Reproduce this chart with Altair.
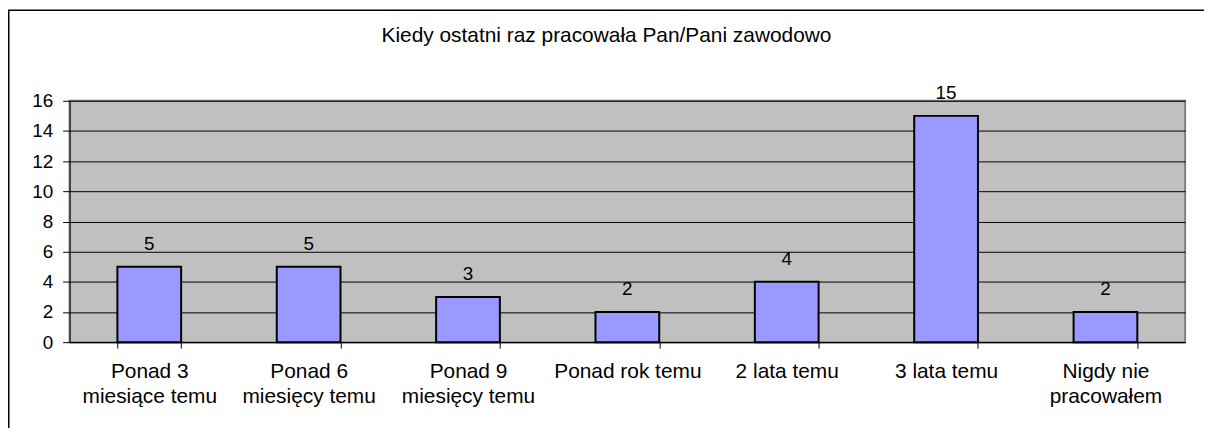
import altair as alt
import pandas as pd

title_text = "Kiedy ostatni raz pracowała Pan/Pani zawodowo"
categories = [
    "Ponad 3|miesiące temu",
    "Ponad 6|miesięcy temu",
    "Ponad 9|miesięcy temu",
    "Ponad rok temu",
    "2 lata temu",
    "3 lata temu",
    "Nigdy nie|pracowałem",
]
values = [5, 5, 3, 2, 4, 15, 2]
y_ticks = [0, 2, 4, 6, 8, 10, 12, 14, 16]

df = pd.DataFrame({"cat": categories, "val": values})

W, H = 1123, 243
PL, PT, PR, PB = 62, 92, 19, 85
FONT = "Liberation Sans"

x_enc = alt.X(
    "cat:N",
    sort=categories,
    title=None,
    scale=alt.Scale(paddingInner=0.6, paddingOuter=0.3),
    axis=alt.Axis(
        labelExpr="split(datum.label, '|')",
        labelAngle=0,
        labelFont=FONT,
        labelFontSize=21,
        labelColor="#000000",
        labelLineHeight=25,
        labelPadding=13,
        labelBaseline="top",
        tickBand="extent",
        tickSize=6,
        tickColor="#000000",
        domainColor="#000000",
        grid=False,
    ),
)

y_enc = alt.Y(
    "val:Q",
    title=None,
    scale=alt.Scale(domain=[0, 16], nice=False),
    axis=alt.Axis(
        values=y_ticks,
        labelOverlap=False,
        labelFont=FONT,
        labelFontSize=19,
        labelColor="#000000",
        labelPadding=10,
        tickSize=7,
        tickColor="#000000",
        domainColor="#000000",
        domainWidth=1,
        gridColor="#000000",
        gridWidth=1,
        gridOpacity=1,
    ),
)

bars = alt.Chart(df).mark_bar(
    color="#9999FF", stroke="#000000", strokeWidth=2
).encode(x=x_enc, y=y_enc)

labels = alt.Chart(df).mark_text(
    font=FONT, fontSize=19, color="#000000", baseline="alphabetic", dy=-17
).encode(x=x_enc, y=y_enc, text="val:Q")

title_df = pd.DataFrame({"t": [title_text]})
title = alt.Chart(title_df).mark_text(
    font=FONT, fontSize=21, color="#000000", baseline="alphabetic", align="center"
).encode(
    x=alt.value(W / 2 - 21),
    y=alt.value(-59),
    text="t:N",
)

frame = alt.Chart(pd.DataFrame({"a": [0]})).mark_rect(
    fill=None, stroke="#000000", strokeWidth=1.5
).encode(
    x=alt.value(-PL + 0.75),
    y=alt.value(-PT + 0.75),
    x2=alt.value(W + PR + 40),
    y2=alt.value(H + PB + 40),
)

chart = alt.layer(frame, bars, labels, title).properties(
    width=W,
    height=H,
    autosize=alt.AutoSizeParams(type="none"),
    padding={"left": PL, "top": PT, "right": PR, "bottom": PB},
    background="#FFFFFF",
).configure_view(
    fill="#C0C0C0", stroke="#808080", strokeWidth=2
)

chart.save("out.html", embed_options={"renderer": "svg", "actions": False})
